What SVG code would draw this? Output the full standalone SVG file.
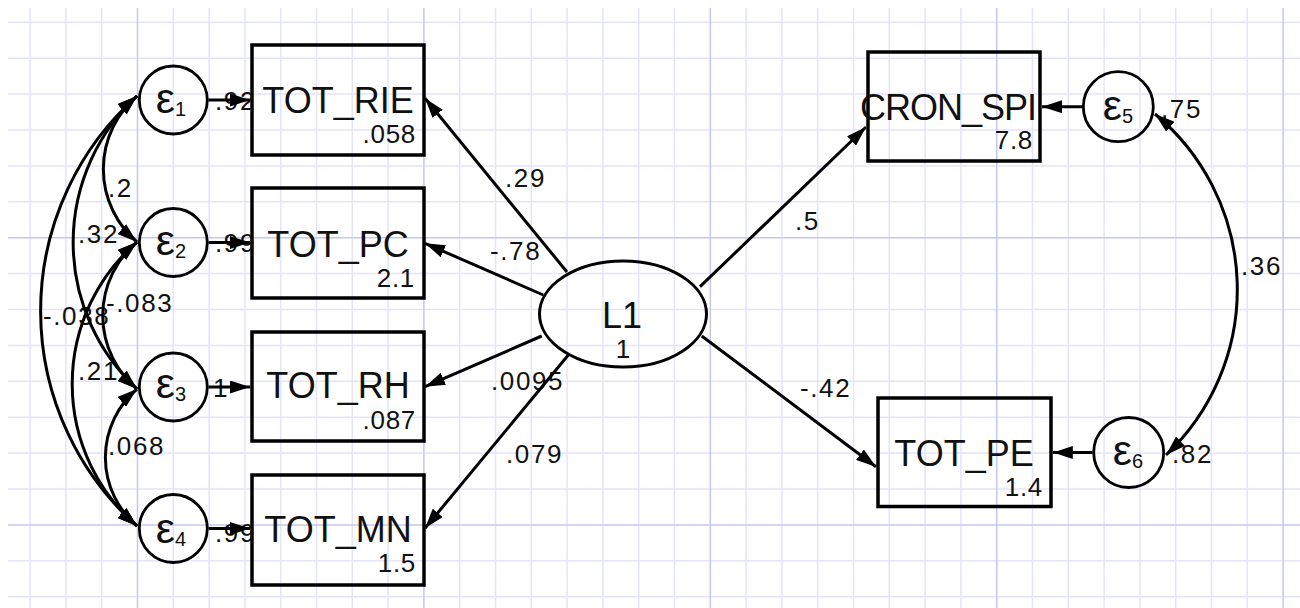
<svg xmlns="http://www.w3.org/2000/svg" width="1300" height="608" viewBox="0 0 1300 608">
<style>
.minor{stroke:#e4e4fb;stroke-width:1.5;fill:none}
.major{stroke:#c6c6f3;stroke-width:1.5;fill:none}
.box{fill:none;stroke:#000;stroke-width:3.5}
.circ{fill:none;stroke:#000;stroke-width:2.8}
.ell{fill:none;stroke:#000;stroke-width:3}
.conn{fill:none;stroke:#000;stroke-width:3;marker-end:url(#ah)}
.cov{fill:none;stroke:#000;stroke-width:3;marker-start:url(#ah);marker-end:url(#ah)}
text{font-family:"Liberation Sans",Arial,sans-serif;fill:#111}
.big{font-size:36px;text-anchor:middle}
.num{font-size:26px;text-anchor:end;letter-spacing:0.7px}
.lab{font-size:26px;letter-spacing:1.6px}
.eps{font-size:43px;text-anchor:middle}
.sub{font-size:20px;letter-spacing:0}
</style>
<defs>
<marker id="ah" viewBox="0 0 20 13" refX="20" refY="6.5" markerWidth="20" markerHeight="13" markerUnits="userSpaceOnUse" orient="auto-start-reverse"><path d="M0,0 L20,6.5 L0,13 z" fill="#000"/></marker>
</defs>
<rect width="1300" height="608" fill="#fff"/>
<g id="grid">
<path class="minor" d="M30.1,8V608M65.9,8V608M101.7,8V608M173.3,8V608M209.1,8V608M244.9,8V608M280.7,8V608M316.5,8V608M352.3,8V608M388.1,8V608M459.7,8V608M495.5,8V608M531.3,8V608M567.1,8V608M602.9,8V608M638.7,8V608M674.5,8V608M746.1,8V608M781.9,8V608M817.7,8V608M853.5,8V608M889.3,8V608M925.1,8V608M960.9,8V608M1032.5,8V608M1068.3,8V608M1104.1,8V608M1139.9,8V608M1175.7,8V608M1211.5,8V608M1247.3,8V608
M8,22.3H1300M8,58.2H1300M8,94.1H1300M8,130H1300M8,165.9H1300M8,201.8H1300M8,273.6H1300M8,309.5H1300M8,345.4H1300M8,381.3H1300M8,417.2H1300M8,453.1H1300M8,489H1300M8,560.8H1300M8,596.7H1300"/>
<path class="major" d="M137.5,8V608M423.9,8V608M710.3,8V608M996.7,8V608M1283.1,8V608M8,237.7H1300M8,524.9H1300"/>
</g>
<g id="L1"><ellipse class="ell" cx="623" cy="314" rx="83.5" ry="53"/><text class="big" x="622" y="328">L1</text><text class="num" x="623" y="358" style="text-anchor:middle;letter-spacing:0">1</text></g>
<g id="TOT_RIE"><rect class="box" x="252" y="45" width="172" height="110"/><text class="big" x="338" y="113">TOT_RIE</text><text class="num" x="416" y="143">.058</text></g>
<g id="TOT_PC"><rect class="box" x="252" y="188" width="172" height="110"/><text class="big" x="338" y="257">TOT_PC</text><text class="num" x="415" y="287">2.1</text></g>
<g id="TOT_RH"><rect class="box" x="252" y="332" width="172" height="109"/><text class="big" x="338" y="398">TOT_RH</text><text class="num" x="416" y="429">.087</text></g>
<g id="TOT_MN"><rect class="box" x="252" y="475" width="172" height="110"/><text class="big" x="338" y="542">TOT_MN</text><text class="num" x="416" y="572">1.5</text></g>
<g id="CRON_SPI"><rect class="box" x="868" y="52" width="172" height="109"/><text class="big" x="860" y="120" style="text-anchor:start;letter-spacing:-1px">CRON_SPI</text><text class="num" x="1033" y="149">7.8</text></g>
<g id="TOT_PE"><rect class="box" x="878" y="398" width="173" height="108.5"/><text class="big" x="964" y="466">TOT_PE</text><text class="num" x="1043" y="496">1.4</text></g>
<g id="e1"><circle class="circ" cx="173.3" cy="100" r="34"/><text class="eps" x="171" y="113">ε<tspan class="sub" dy="3">1</tspan></text></g>
<g id="e2"><circle class="circ" cx="173.3" cy="242.5" r="34"/><text class="eps" x="171" y="255">ε<tspan class="sub" dy="3">2</tspan></text></g>
<g id="e3"><circle class="circ" cx="173.3" cy="387" r="34"/><text class="eps" x="171" y="398">ε<tspan class="sub" dy="3">3</tspan></text></g>
<g id="e4"><circle class="circ" cx="173.3" cy="528.5" r="34"/><text class="eps" x="171" y="543">ε<tspan class="sub" dy="3">4</tspan></text></g>
<g id="e5"><circle class="circ" cx="1118.3" cy="106.7" r="35"/><text class="eps" x="1118" y="120">ε<tspan class="sub" dy="3">5</tspan></text></g>
<g id="e6"><circle class="circ" cx="1128.7" cy="452.5" r="35"/><text class="eps" x="1128" y="465">ε<tspan class="sub" dy="3">6</tspan></text></g>
<g id="connector-labels">
<text class="lab" x="215" y="110">.92</text>
<text class="lab" x="215" y="252">.99</text>
<text class="lab" x="213" y="397">1</text>
<text class="lab" x="215" y="542">.99</text>
<text class="lab" x="1161" y="118">.75</text>
<text class="lab" x="1172" y="463">.82</text>
<text class="lab" x="505" y="187">.29</text>
<text class="lab" x="490" y="260">-.78</text>
<text class="lab" x="491" y="390">.0095</text>
<text class="lab" x="506" y="463">.079</text>
<text class="lab" x="795" y="230">.5</text>
<text class="lab" x="800" y="397">-.42</text>
<text class="lab" x="1241" y="275">.36</text>
<text class="lab" x="108" y="197">.2</text>
<text class="lab" x="78" y="243">.32</text>
<text class="lab" x="43" y="325">-.038</text>
<text class="lab" x="106" y="312">-.083</text>
<text class="lab" x="78" y="380">.21</text>
<text class="lab" x="108" y="455">.068</text>
</g>
<g id="connectors">
<path class="conn" d="M567,272L425,98.3"/>
<path class="conn" d="M543.3,295L425,243.3"/>
<path class="conn" d="M541.7,336L425,386.7"/>
<path class="conn" d="M568.3,355L425,528.3"/>
<path class="conn" d="M700,286.7L866,127"/>
<path class="conn" d="M701.7,336L876,466.7"/>
<path class="conn" d="M208.5,100H250"/>
<path class="conn" d="M208.5,242.5H250"/>
<path class="conn" d="M208.5,387H250"/>
<path class="conn" d="M208.5,528.5H250"/>
<path class="conn" d="M1082,106.7H1042"/>
<path class="conn" d="M1092.5,452.5H1052.8"/>
<path class="cov" d="M137,96A96,96 0 0 0 137,242"/>
<path class="cov" d="M137,96A200,200 0 0 0 137,389"/>
<path class="cov" d="M137,96A288,288 0 0 0 137,526"/>
<path class="cov" d="M137,242A96,96 0 0 0 137,389"/>
<path class="cov" d="M137,242A188,188 0 0 0 137,526"/>
<path class="cov" d="M137,389A90,90 0 0 0 137,526"/>
<path class="cov" d="M1155,114A228,228 0 0 1 1166,455"/>
</g>
</svg>
